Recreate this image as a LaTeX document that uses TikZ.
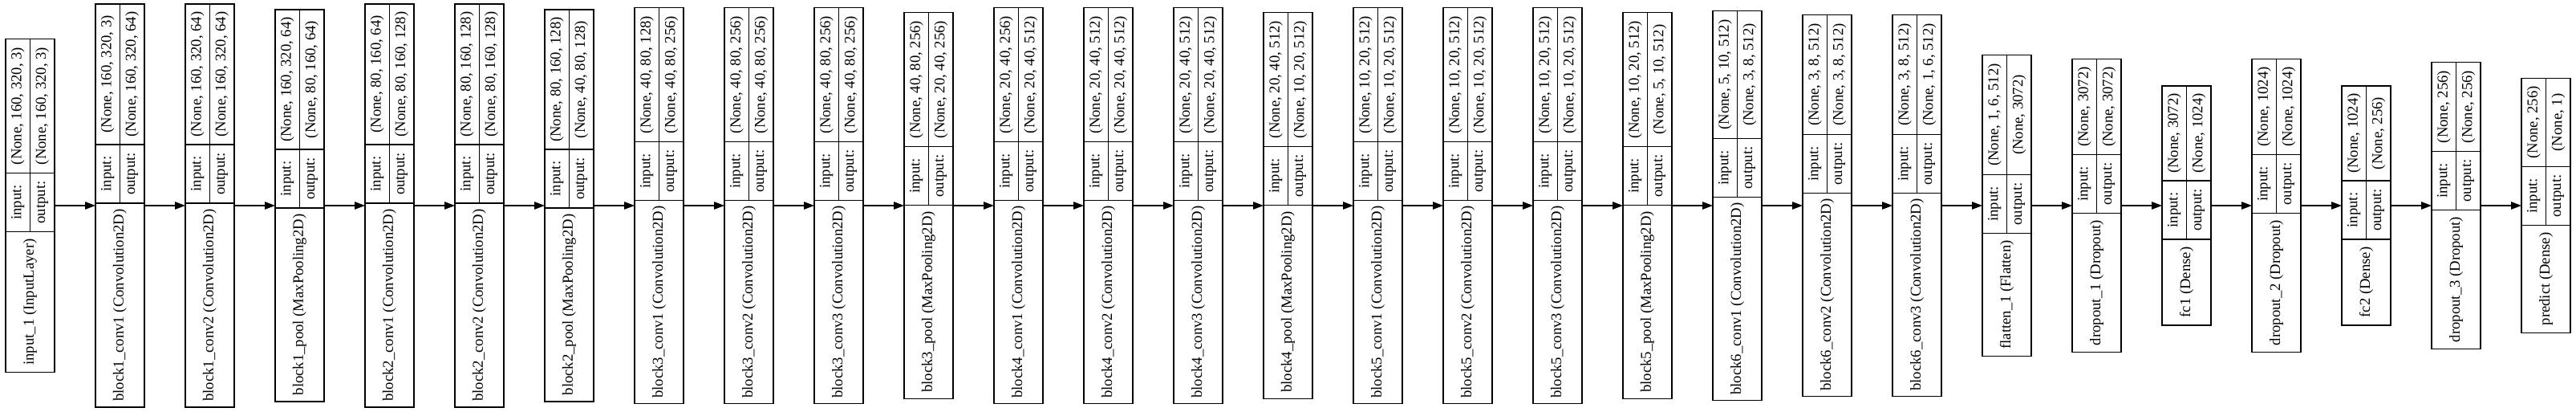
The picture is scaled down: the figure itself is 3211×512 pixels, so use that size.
\documentclass[tikz,border=0pt]{standalone}
\usepackage{fontspec}
\setmainfont{Liberation Serif}
\usetikzlibrary{arrows.meta}
\usetikzlibrary{calc}

\begin{document}
\begin{tikzpicture}[x=1pt,y=1pt,line width=1.3pt,inner sep=0pt,>={Triangle[length=13pt,width=9.5pt]},
  layer/.style={draw,rectangle,outer sep=0pt,minimum width=61pt},
  txt/.style={rotate=90,font=\fontsize{18.67}{22}\selectfont}]
\useasboundingbox (0,0) rectangle (3211,512);
% one box per layer: name / value width / name width
\foreach \nm/\inp/\outp/\v/\n [count=\i] in {
  {input\_1 (InputLayer)/(None, 160, 320, 3)/(None, 160, 320, 3)/167/175},
  {block1\_conv1 (Convolution2D)/(None, 160, 320, 3)/(None, 160, 320, 64)/175/254},
  {block1\_conv2 (Convolution2D)/(None, 160, 320, 64)/(None, 160, 320, 64)/175/254},
  {block1\_pool (MaxPooling2D)/(None, 160, 320, 64)/(None, 80, 160, 64)/174/241},
  {block2\_conv1 (Convolution2D)/(None, 80, 160, 64)/(None, 80, 160, 128)/175/254},
  {block2\_conv2 (Convolution2D)/(None, 80, 160, 128)/(None, 80, 160, 128)/175/254},
  {block2\_pool (MaxPooling2D)/(None, 80, 160, 128)/(None, 40, 80, 128)/174/241},
  {block3\_conv1 (Convolution2D)/(None, 40, 80, 128)/(None, 40, 80, 256)/167/253},
  {block3\_conv2 (Convolution2D)/(None, 40, 80, 256)/(None, 40, 80, 256)/167/253},
  {block3\_conv3 (Convolution2D)/(None, 40, 80, 256)/(None, 40, 80, 256)/167/253},
  {block3\_pool (MaxPooling2D)/(None, 40, 80, 256)/(None, 20, 40, 256)/167/241},
  {block4\_conv1 (Convolution2D)/(None, 20, 40, 256)/(None, 20, 40, 512)/167/253},
  {block4\_conv2 (Convolution2D)/(None, 20, 40, 512)/(None, 20, 40, 512)/167/253},
  {block4\_conv3 (Convolution2D)/(None, 20, 40, 512)/(None, 20, 40, 512)/167/253},
  {block4\_pool (MaxPooling2D)/(None, 20, 40, 512)/(None, 10, 20, 512)/167/241},
  {block5\_conv1 (Convolution2D)/(None, 10, 20, 512)/(None, 10, 20, 512)/167/253},
  {block5\_conv2 (Convolution2D)/(None, 10, 20, 512)/(None, 10, 20, 512)/167/253},
  {block5\_conv3 (Convolution2D)/(None, 10, 20, 512)/(None, 10, 20, 512)/167/253},
  {block5\_pool (MaxPooling2D)/(None, 10, 20, 512)/(None, 5, 10, 512)/167/241},
  {block6\_conv1 (Convolution2D)/(None, 5, 10, 512)/(None, 3, 8, 512)/159/253},
  {block6\_conv2 (Convolution2D)/(None, 3, 8, 512)/(None, 3, 8, 512)/149/253},
  {block6\_conv3 (Convolution2D)/(None, 3, 8, 512)/(None, 1, 6, 512)/149/253},
  {flatten\_1 (Flatten)/(None, 1, 6, 512)/(None, 3072)/149/153},
  {dropout\_1 (Dropout)/(None, 3072)/(None, 3072)/119/173},
  {fc1 (Dense)/(None, 3072)/(None, 1024)/118/107},
  {dropout\_2 (Dropout)/(None, 1024)/(None, 1024)/119/173},
  {fc2 (Dense)/(None, 1024)/(None, 256)/118/107},
  {dropout\_3 (Dropout)/(None, 256)/(None, 256)/111/173},
  {predict (Dense)/(None, 256)/(None, 1)/110/134}}{
  \pgfmathsetmacro\h{\v+73+\n}
  \pgfmathsetmacro\w{\v+73}
  \node [layer,minimum height=\h pt] (L\i) at ({37.5+112*(\i-1)},256) {};
  \draw ($ (L\i.north west) + (0,-\v) $) -- ($ (L\i.north east) + (0,-\v) $);
  \draw ($ (L\i.north west) + (0,-\w) $) -- ($ (L\i.north east) + (0,-\w) $);
  \draw (L\i.north) -- ($ (L\i.north) + (0,-\w) $);
  \node [txt] at ($ (L\i.north) + (-15.25,{-\v/2}) $) {\inp};
  \node [txt] at ($ (L\i.north) + (15.25,{-\v/2}) $) {\outp};
  \node [txt] at ($ (L\i.north) + (-15.25,{-\v-36.5}) $) {input:};
  \node [txt] at ($ (L\i.north) + (15.25,{-\v-36.5}) $) {output:};
  \node [txt] at ($ (L\i.south) + (0,{\n/2}) $) {\nm};
}
\foreach \i in {2,...,29}{
  \pgfmathtruncatemacro\j{\i-1}
  \draw [->] (L\j.east) -- (L\i.west);
}
\end{tikzpicture}
\end{document}
